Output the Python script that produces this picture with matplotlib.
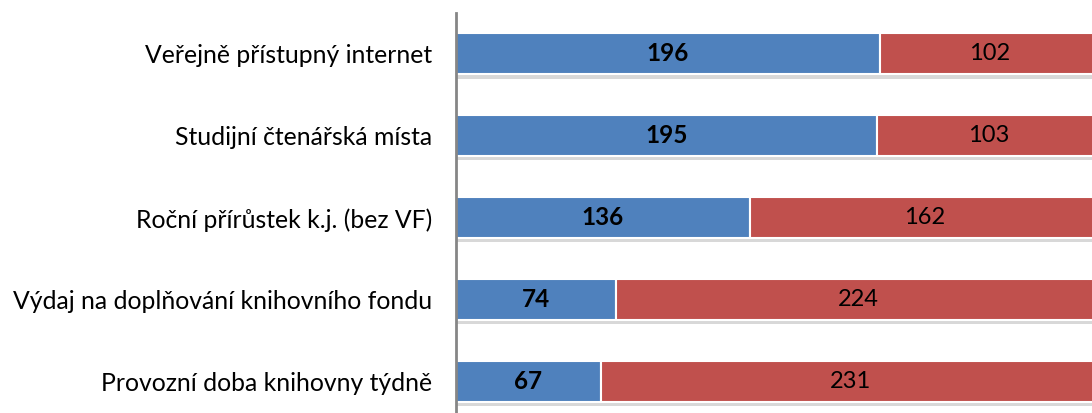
import matplotlib
matplotlib.use("Agg")
import matplotlib.pyplot as plt
import matplotlib.patheffects as pe

# data (top to bottom)
categories = ["Veřejně přístupný internet",
              "Studijní čtenářská místa",
              "Roční přírůstek k.j. (bez VF)",
              "Výdaj na doplňování knihovního fondu",
              "Provozní doba knihovny týdně"]
blue_vals = [196, 195, 136, 74, 67]
red_vals = [102, 103, 162, 224, 231]

plt.rcParams['font.family'] = ['Lato', 'DejaVu Sans']

fig = plt.figure(figsize=(10.92, 4.13), dpi=100)
ax = fig.add_axes([456/1092, -0.023, 644/1092, 0.9915])

n = len(categories)
ypos = [n - 1 - i for i in range(n)]
shadow = [pe.SimplePatchShadow(offset=(0, -3), shadow_rgbFace='#aaaaaa', alpha=0.45), pe.Normal()]

bb = ax.barh(ypos, blue_vals, height=0.5, color='#4F81BD', edgecolor='white', linewidth=1.5)
rb = ax.barh(ypos, red_vals, left=blue_vals, height=0.5, color='#C0504D', edgecolor='white', linewidth=1.5)
for p in list(bb) + list(rb):
    p.set_path_effects(shadow)

for y, b, r in zip(ypos, blue_vals, red_vals):
    ax.text(b / 2, y, str(b), ha='center', va='center', fontsize=17.5, fontweight='bold', color='black')
    ax.text(b + r / 2, y, str(r), ha='center', va='center', fontsize=17, color='black')

ax.set_xlim(0, 298)
ax.set_ylim(-0.5, n - 0.5)
ax.set_yticks(ypos)
ax.set_yticklabels(categories, fontsize=17.8)
ax.tick_params(axis='y', length=0, pad=17)
ax.set_xticks([])
for s in ['top', 'right', 'bottom']:
    ax.spines[s].set_visible(False)
ax.spines['left'].set_color('#868686')
ax.spines['left'].set_linewidth(2)

fig.savefig('out.png', dpi=100)
